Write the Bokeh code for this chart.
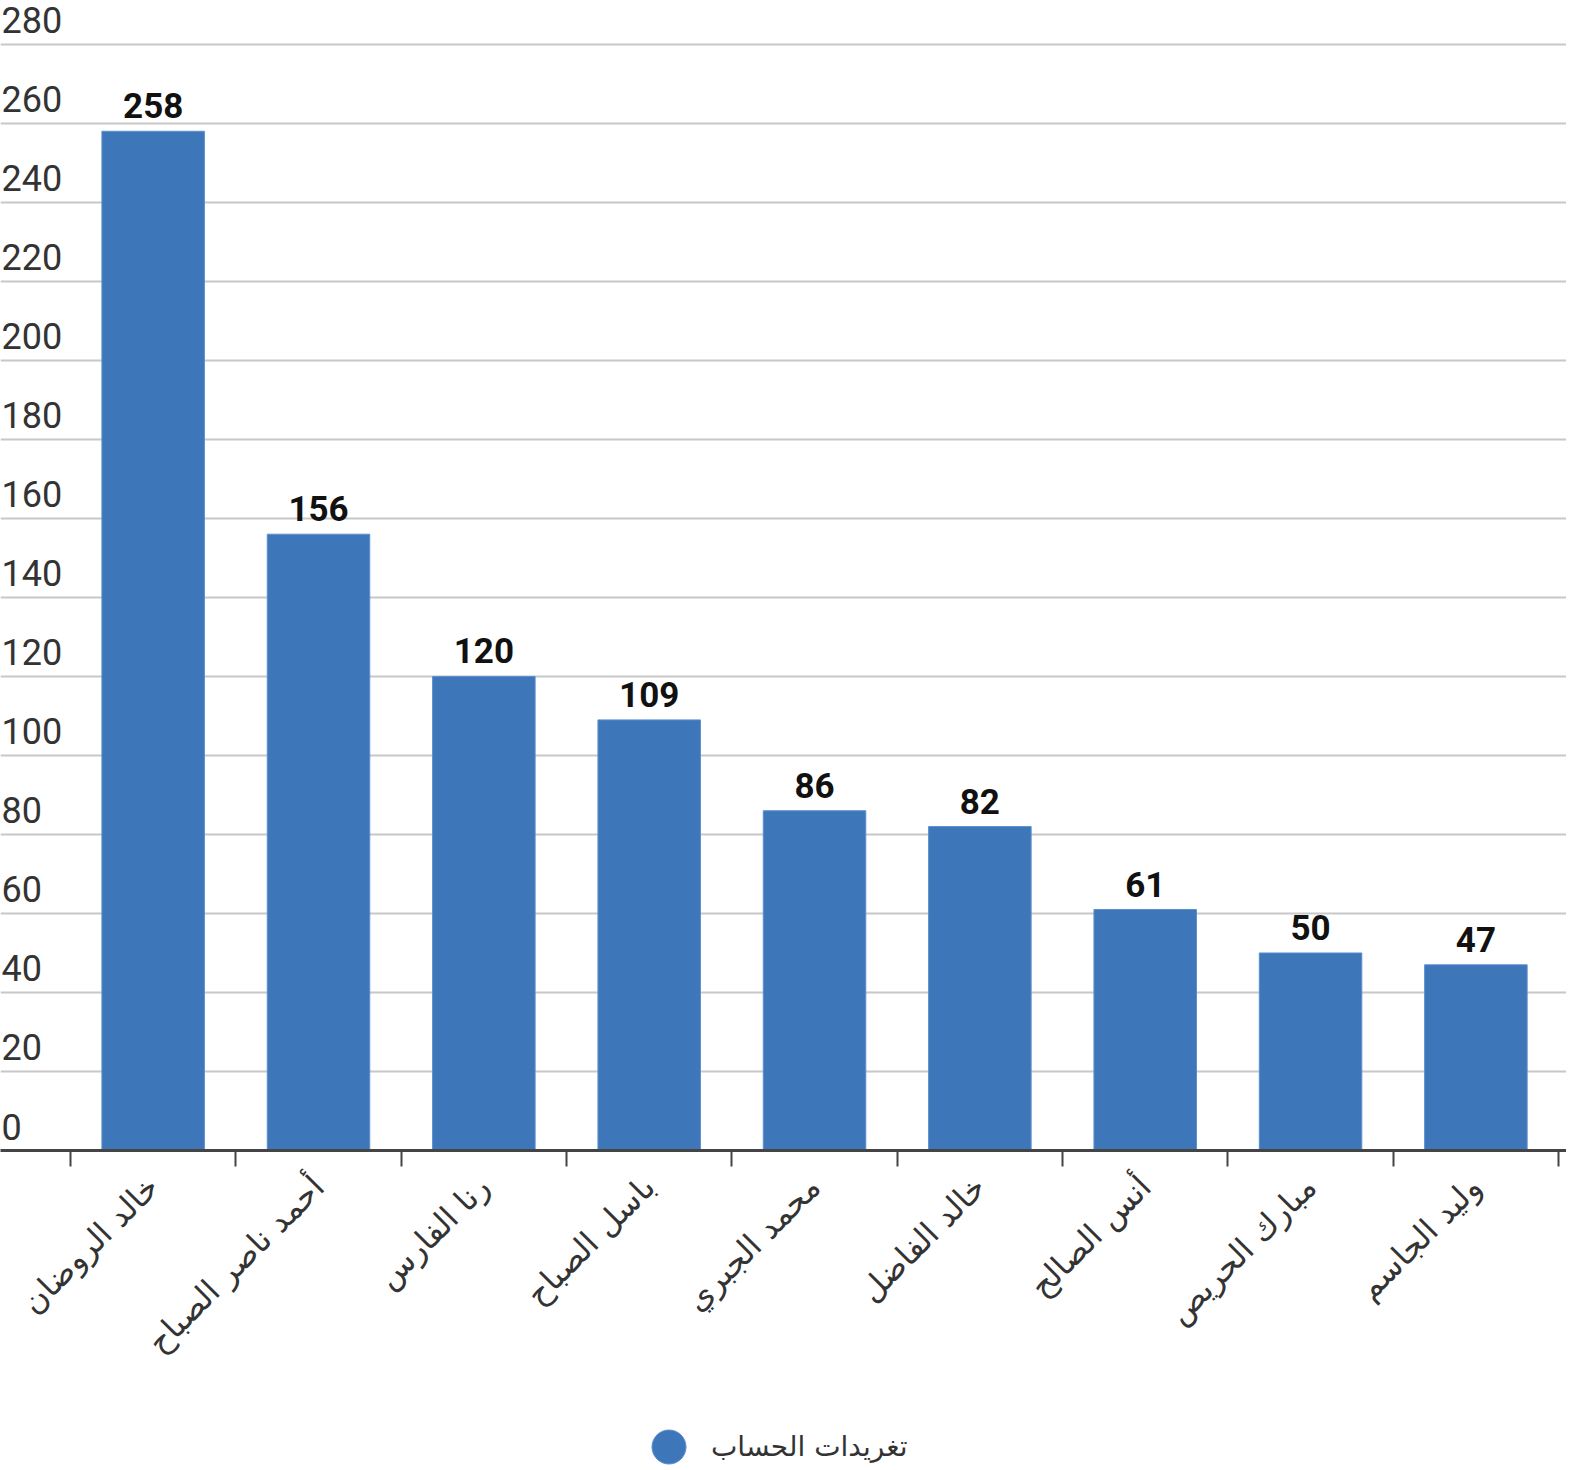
import math
from bokeh.plotting import figure
from bokeh.layouts import column
from bokeh.models import (ColumnDataSource, FixedTicker, Range1d, LabelSet, Label,
                          Legend, LegendItem)
from bokeh.core.properties import value
from bokeh.embed import file_html
from bokeh.resources import INLINE

# ---- data ----
names = ["خالد الروضان", "أحمد ناصر الصباح", "رنا الفارس", "باسل الصباح",
         "محمد الجبري", "خالد الفاضل", "أنس الصالح", "مبارك الحريص", "وليد الجاسم"]
tweets = [258, 156, 120, 109, 86, 82, 61, 50, 47]
y_ticks = [0, 20, 40, 60, 80, 100, 120, 140, 160, 180, 200, 220, 240, 260, 280]
series_name = "تغريدات الحساب"

BAR = "#3d76b9"
BAR_LINE = "#5b8fce"
positions = [i + 0.5 for i in range(len(names))]
boundaries = list(range(len(names) + 1))

src = ColumnDataSource(dict(x=positions, top=tweets, label=[str(v) for v in tweets]))

p = figure(frame_width=1566, frame_height=1150,
           x_range=Range1d(-0.4234, 9.048), y_range=Range1d(0, 291.1),
           output_backend="svg", toolbar_location=None,
           y_axis_location=None, min_border=0, min_border_bottom=220,
           background_fill_color="white", border_fill_color="white", outline_line_color=None)

# grid
p.xgrid.visible = False
p.ygrid.ticker = FixedTicker(ticks=y_ticks)
p.ygrid.grid_line_color = "#c8c8c8"
p.ygrid.grid_line_width = 2

# bars
p.vbar(x="x", top="top", bottom=0, width=0.62, source=src,
       fill_color=BAR, line_color=BAR_LINE, line_width=1)

# value labels
p.add_layout(LabelSet(x="x", y="top", text="label", source=src, text_align="center",
                      text_baseline="alphabetic", y_offset=13,
                      text_font=value("Roboto"), text_font_style="bold",
                      text_font_size="35px", text_color="#111111"))

# y tick labels (drawn above gridlines, left aligned)
for t in y_ticks:
    p.add_layout(Label(x=1, x_units="screen", y=t, y_offset=24, text=str(t),
                       text_baseline="alphabetic", text_align="left",
                       text_font="Roboto", text_font_size="36px", text_color="#333333"))

# x axis
ax = p.xaxis[0]
ax.ticker = FixedTicker(ticks=positions, minor_ticks=boundaries)
ax.major_label_overrides = {pos: n for pos, n in zip(positions, names)}
ax.major_tick_line_color = None
ax.major_tick_out = 16
ax.major_tick_in = 0
ax.minor_tick_line_color = "#444444"
ax.minor_tick_line_width = 2
ax.minor_tick_out = 16
ax.minor_tick_in = 0
ax.axis_line_color = "#444444"
ax.axis_line_width = 3
ax.major_label_orientation = math.pi / 4
ax.major_label_standoff = 15
ax.major_label_text_font = "DejaVu Sans"
ax.major_label_text_font_size = "32px"
ax.major_label_text_color = "#333333"

# legend in its own strip below the chart
lf = figure(width=1566, height=100, output_backend="svg", toolbar_location=None,
            x_axis_location=None, y_axis_location=None, min_border=0,
            x_range=Range1d(0, 1), y_range=Range1d(0, 1),
            outline_line_color=None, background_fill_color="white", border_fill_color="white")
lf.grid.visible = False
lr = lf.scatter(x=[float("nan")], y=[float("nan")], size=34,
                fill_color=BAR, line_color=BAR_LINE)
legend = Legend(items=[LegendItem(label=series_name, renderers=[lr])],
                orientation="horizontal", location=(626, -12),
                glyph_width=85, glyph_height=85, label_standoff=0, padding=0, margin=0,
                border_line_color=None, background_fill_alpha=0,
                label_text_font="DejaVu Sans", label_text_font_size="28px",
                label_text_color="#333333", label_height=85)
lf.add_layout(legend, "center")

layout = column(p, lf, spacing=0)
open("out.html", "w").write(file_html(layout, INLINE))
